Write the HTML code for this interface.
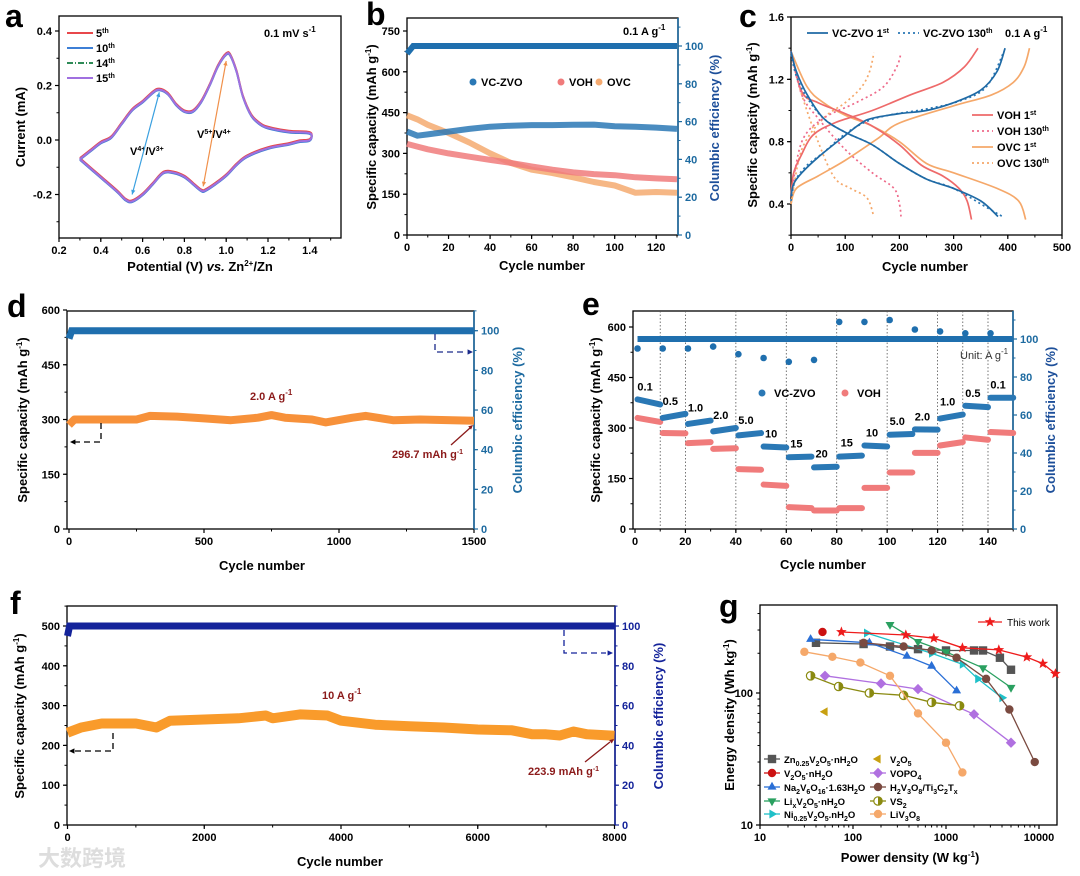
<!DOCTYPE html>
<html><head><meta charset="utf-8">
<style>
html,body{margin:0;padding:0;background:#fff;}
svg{display:block;font-family:"Liberation Sans","Noto Sans CJK SC",sans-serif;}
.t{font-size:11px;font-weight:bold;}
.ti{font-size:13px;font-weight:bold;}
.pl{font-size:32px;font-weight:bold;}
.lg{font-size:11px;font-weight:bold;}
</style></head>
<body>
<svg id="fig" width="1080" height="876" viewBox="0 0 1080 876" xmlns="http://www.w3.org/2000/svg">
<rect x="0" y="0" width="1080" height="876" fill="#fff"/>
<text class="pl" x="5" y="27">a</text>
<text class="pl" x="366" y="25">b</text>
<text class="pl" x="739" y="27">c</text>
<text class="pl" x="7" y="317">d</text>
<text class="pl" x="582" y="315">e</text>
<text class="pl" x="10" y="614">f</text>
<text class="pl" x="719" y="617">g</text>

<rect x="59" y="16" width="282" height="222" fill="none" stroke="#000" stroke-width="1.3"/>
<rect x="407" y="18" width="271" height="217" fill="none" stroke="#000" stroke-width="1.3"/>
<line x1="678" y1="18" x2="678" y2="235" stroke="#1d6aa0" stroke-width="1.6"/>
<rect x="791" y="17" width="271" height="218" fill="none" stroke="#000" stroke-width="1.3"/>
<rect x="67" y="311" width="407" height="218" fill="none" stroke="#000" stroke-width="1.3"/>
<line x1="474" y1="311" x2="474" y2="529" stroke="#1d6aa0" stroke-width="1.6"/>
<rect x="633" y="311" width="380" height="218" fill="none" stroke="#000" stroke-width="1.3"/>
<line x1="1013" y1="311" x2="1013" y2="529" stroke="#1d6aa0" stroke-width="1.6"/>
<rect x="67" y="606" width="548" height="219" fill="none" stroke="#000" stroke-width="1.3"/>
<line x1="615" y1="606" x2="615" y2="825" stroke="#14239a" stroke-width="1.6"/>
<rect x="760" y="605" width="297" height="220" fill="none" stroke="#000" stroke-width="1.3"/>

<text class="ti" transform="translate(25,127) rotate(-90)" text-anchor="middle">Current (mA)</text>
<text class="ti" x="200" y="271" text-anchor="middle">Potential (V) <tspan font-style="italic">vs.</tspan> Zn<tspan dy="-5" font-size="8">2+</tspan><tspan dy="5">/Zn</tspan></text>
<text class="ti" transform="translate(376,127) rotate(-90)" text-anchor="middle">Specific capacity (mAh g<tspan dy="-5" font-size="8">-1</tspan><tspan dy="5">)</tspan></text>
<text class="ti" transform="translate(719,128) rotate(-90)" text-anchor="middle" fill="#1d4f9a">Columbic efficiency (%)</text>
<text class="ti" x="542" y="270" text-anchor="middle">Cycle number</text>
<text class="ti" transform="translate(757,125) rotate(-90)" text-anchor="middle">Specific capacity (mAh g<tspan dy="-5" font-size="8">-1</tspan><tspan dy="5">)</tspan></text>
<text class="ti" x="925" y="271" text-anchor="middle">Cycle number</text>
<text class="ti" transform="translate(27,420) rotate(-90)" text-anchor="middle">Specific capacity (mAh g<tspan dy="-5" font-size="8">-1</tspan><tspan dy="5">)</tspan></text>
<text class="ti" transform="translate(522,420) rotate(-90)" text-anchor="middle" fill="#1d6aa0">Columbic efficiency (%)</text>
<text class="ti" x="262" y="570" text-anchor="middle">Cycle number</text>
<text class="ti" transform="translate(600,420) rotate(-90)" text-anchor="middle">Specific capacity (mAh g<tspan dy="-5" font-size="8">-1</tspan><tspan dy="5">)</tspan></text>
<text class="ti" transform="translate(1055,420) rotate(-90)" text-anchor="middle" fill="#1d4f9a">Columbic efficiency (%)</text>
<text class="ti" x="823" y="569" text-anchor="middle">Cycle number</text>
<text class="ti" transform="translate(24,716) rotate(-90)" text-anchor="middle">Specific capacity (mAh g<tspan dy="-5" font-size="8">-1</tspan><tspan dy="5">)</tspan></text>
<text class="ti" transform="translate(663,716) rotate(-90)" text-anchor="middle" fill="#14239a">Columbic efficiency (%)</text>
<text class="ti" x="340" y="866" text-anchor="middle">Cycle number</text>
<text class="ti" transform="translate(734,715) rotate(-90)" text-anchor="middle">Energy density (Wh kg<tspan dy="-5" font-size="8">-1</tspan><tspan dy="5">)</tspan></text>
<text class="ti" x="910" y="862" text-anchor="middle">Power density (W kg<tspan dy="-5" font-size="8">-1</tspan><tspan dy="5">)</tspan></text>

<text class="lg" x="264" y="37" font-size="12">0.1 mV s<tspan dy="-5" font-size="8">-1</tspan></text>
<text class="lg" x="130" y="155" font-size="10">V<tspan dy="-4" font-size="7">4+</tspan><tspan dy="4">/V</tspan><tspan dy="-4" font-size="7">3+</tspan></text>
<text class="lg" x="197" y="138" font-size="10">V<tspan dy="-4" font-size="7">5+</tspan><tspan dy="4">/V</tspan><tspan dy="-4" font-size="7">4+</tspan></text>
<text class="lg" x="623" y="35" font-size="12">0.1 A g<tspan dy="-5" font-size="8">-1</tspan></text>
<text class="lg" x="1005" y="37" font-size="12">0.1 A g<tspan dy="-5" font-size="8">-1</tspan></text>
<text class="lg" x="250" y="400" font-size="12" fill="#8b1a1a">2.0 A g<tspan dy="-5" font-size="8">-1</tspan></text>
<text class="lg" x="392" y="458" font-size="9" fill="#8b1a1a">296.7 mAh g<tspan dy="-4" font-size="7">-1</tspan></text>
<text x="960" y="359" font-size="11" fill="#333">Unit: A g<tspan dy="-5" font-size="8">-1</tspan></text>
<text class="lg" x="322" y="699" font-size="12" fill="#8b1a1a">10 A g<tspan dy="-5" font-size="8">-1</tspan></text>
<text class="lg" x="528" y="775" font-size="9" fill="#8b1a1a">223.9 mAh g<tspan dy="-4" font-size="7">-1</tspan></text>
<text x="38" y="866" font-size="22" fill="#ddd" font-weight="bold">大数跨境</text>
</svg>
<script>
const cvV=[0.3,0.35,0.4,0.45,0.5,0.55,0.6,0.65,0.68,0.72,0.76,0.8,0.84,0.88,0.92,0.96,1.0,1.02,1.05,1.08,1.12,1.16,1.2,1.3,1.4,1.4,1.35,1.3,1.2,1.1,1.05,1.0,0.95,0.9,0.88,0.84,0.8,0.75,0.7,0.65,0.6,0.55,0.52,0.48,0.42,0.36,0.3];
const cvI=[-0.07,-0.04,-0.01,0.01,0.06,0.11,0.14,0.175,0.185,0.17,0.13,0.105,0.105,0.14,0.2,0.27,0.315,0.31,0.25,0.16,0.09,0.06,0.045,0.03,0.025,0.0,-0.005,-0.015,-0.03,-0.06,-0.09,-0.13,-0.16,-0.185,-0.185,-0.16,-0.135,-0.12,-0.12,-0.16,-0.2,-0.225,-0.22,-0.19,-0.15,-0.11,-0.07];
const cvCycles=["5th","10th","14th","15th"];
const aXTicks=[0.2,0.4,0.6,0.8,1.0,1.2,1.4];
const aYTicks=[-0.2,0.0,0.2,0.4];
const bCycles=[0,5,10,20,30,40,50,60,70,80,90,100,110,120,130];
const bZVO=[380,365,370,380,390,398,402,404,404,405,406,400,398,395,390];
const bVOH=[335,325,315,300,288,276,265,252,240,230,224,220,212,208,205];
const bOVC=[440,425,405,375,340,300,265,240,228,212,195,182,155,158,155];
const bCECycles=[0,3,130];
const bCE=[96,100,100];
const bXTicks=[0,20,40,60,80,100,120];
const bYTicks=[0,150,300,450,600,750];
const bY2Ticks=[0,20,40,60,80,100];
const cZvoChgQ=[0,5,20,50,100,130,150,200,250,300,350,380,395];
const cZvoChgV=[0.45,0.53,0.6,0.7,0.84,0.92,0.95,0.98,1.0,1.05,1.13,1.25,1.4];
const cZvoDisQ=[0,10,30,60,100,150,200,250,300,350,382];
const cZvoDisV=[1.38,1.25,1.1,0.95,0.86,0.78,0.66,0.56,0.5,0.42,0.32];
const cZvo130ChgQ=[0,8,30,60,100,140,180,250,310,360,393];
const cZvo130ChgV=[0.42,0.55,0.65,0.73,0.85,0.93,0.97,1.01,1.06,1.15,1.38];
const cZvo130DisQ=[0,10,30,60,100,150,200,250,300,360,390];
const cZvo130DisV=[1.36,1.22,1.08,0.95,0.86,0.78,0.66,0.56,0.5,0.38,0.32];
const cVohChgQ=[0,5,20,40,80,150,220,280,320,345];
const cVohChgV=[0.45,0.6,0.72,0.84,0.92,1.0,1.1,1.18,1.28,1.4];
const cVohDisQ=[0,20,50,100,150,200,240,280,310,325,333];
const cVohDisV=[1.38,1.12,1.05,0.98,0.9,0.78,0.65,0.58,0.5,0.42,0.3];
const cVoh130ChgQ=[0,20,60,120,170,195,203];
const cVoh130ChgV=[0.45,0.8,0.95,1.05,1.15,1.28,1.37];
const cVoh130DisQ=[0,20,50,100,150,190,200,203];
const cVoh130DisV=[1.38,1.1,0.95,0.75,0.6,0.5,0.4,0.32];
const cOvcChgQ=[0,10,50,100,160,200,300,370,410,430,440];
const cOvcChgV=[0.4,0.5,0.58,0.68,0.82,0.92,1.03,1.1,1.18,1.28,1.4];
const cOvcDisQ=[0,30,60,100,150,200,250,300,380,420,433];
const cOvcDisV=[1.38,1.15,1.05,0.97,0.9,0.8,0.66,0.6,0.5,0.42,0.3];
const cOvc130ChgQ=[0,20,60,100,130,145,153];
const cOvc130ChgV=[0.4,0.75,0.95,1.05,1.15,1.25,1.37];
const cOvc130DisQ=[0,20,50,80,110,140,152];
const cOvc130DisV=[1.36,1.1,0.8,0.57,0.5,0.44,0.33];
const cXTicks=[0,100,200,300,400,500];
const cYTicks=[0.4,0.8,1.2,1.6];
const dCycles=[0,20,250,300,400,500,600,700,750,800,900,950,1050,1100,1200,1300,1500];
const dCap=[285,300,300,310,308,303,298,305,312,305,300,292,305,310,298,300,296.7];
const dCECycles=[0,10,1500];
const dCE=[96,100,100];
const dXTicks=[0,500,1000,1500];
const dYTicks=[0,150,300,450,600];
const dY2Ticks=[0,20,40,60,80,100];
const eRates=["0.1","0.5","1.0","2.0","5.0","10","15","20","15","10","5.0","2.0","1.0","0.5","0.1"];
const eZvoStart=[385,330,312,290,278,245,213,183,215,248,280,296,328,366,390];
const eZvoEnd=[370,342,322,300,285,242,215,185,218,245,282,295,340,362,390];
const eVohStart=[330,285,255,238,178,132,65,55,62,122,168,226,248,272,288];
const eVohEnd=[318,284,258,240,176,128,62,55,62,122,168,226,258,265,285];
const eCEOutCycles=[1,11,21,31,41,51,61,71,81,91,101,111,121,131,141];
const eCEOut=[95,95,95,96,92,90,88,89,109,109,110,105,104,103,103];
const eDivs=[10,20,40,60,80,100,120,130,140];
const eXTicks=[0,20,40,60,80,100,120,140];
const eYTicks=[0,150,300,450,600];
const eY2Ticks=[0,20,40,60,80,100];
const fCycles=[0,200,500,1000,1300,1500,2000,2500,2900,3000,3400,3800,4000,4500,5000,5500,6000,6500,6800,7000,7200,7400,7600,8000];
const fCap=[232,245,255,255,245,262,265,268,275,268,278,275,262,252,248,245,240,238,228,228,225,235,228,224];
const fCECycles=[0,30,8000];
const fCE=[95,100,100];
const fXTicks=[0,2000,4000,6000,8000];
const fYTicks=[0,100,200,300,400,500];
const fY2Ticks=[0,20,40,60,80,100];
const gNames=["This work","Zn0.25V2O5·nH2O","V2O5·nH2O","Na2V6O16·1.63H2O","LixV2O5·nH2O","Ni0.25V2O5.nH2O","V2O5","VOPO4","H2V3O8/Ti3C2Tx","VS2","LiV3O8"];
const gThisP=[75,370,740,1500,3700,7400,11000,15000];
const gThisE=[290,275,260,220,212,187,167,140];
const gZnP=[40,130,250,500,1000,2000,2500,3800,5000];
const gZnE=[240,235,225,215,210,210,210,185,150];
const gVnP=[47];
const gVnE=[290];
const gNaP=[35,150,380,700,1300];
const gNaE=[255,240,190,160,104];
const gLiP=[250,500,1000,2500,5000];
const gLiE=[330,245,205,155,110];
const gNiP=[140,700,1500,2200,4000];
const gNiE=[285,200,165,128,92];
const gV2P=[50];
const gV2E=[72];
const gVoP=[50,200,500,2000,5000];
const gVoE=[135,118,107,69,42];
const gHP=[130,350,700,1300,2700,4800,9000];
const gHE=[240,225,210,185,128,75,30];
const gVsP=[35,70,150,350,700,1400];
const gVsE=[135,112,100,96,85,80];
const gLvP=[30,60,120,250,500,1000,1500];
const gLvE=[205,188,170,135,70,42,25];

const NS='http://www.w3.org/2000/svg';
const svg=document.getElementById('fig');
function mk(tag,attrs,parent){const e=document.createElementNS(NS,tag);for(const k in attrs)e.setAttribute(k,attrs[k]);(parent||svg).appendChild(e);return e;}
function lin(d0,d1,r0,r1){return v=>r0+(v-d0)*(r1-r0)/(d1-d0);}
function logs(d0,d1,r0,r1){return v=>r0+(Math.log10(v)-Math.log10(d0))*(r1-r0)/(Math.log10(d1)-Math.log10(d0));}

function xAxis(sx,yb,vals,labels,minorStep,lo,hi,color){
  const g=mk('g',{});
  
  
  vals.forEach((v,i)=>{
    const l=mk('line',{x1:sx(v),x2:sx(v),y1:yb,y2:yb+4,stroke:color||'#000','stroke-width':1.2},g);
    
    
    const t=mk('text',{x:sx(v),y:yb+16,'text-anchor':'middle','class':'t',fill:color||'#000'},g);
    
    
    t.textContent=labels[i];
  });
  if(minorStep){for(let v=lo;v<=hi+1e-9;v+=minorStep){
    const l=mk('line',{x1:sx(v),x2:sx(v),y1:yb,y2:yb+2.5,stroke:color||'#000','stroke-width':1},g);
    
    
  }}
}
function yAxis(sy,xa,vals,labels,minorStep,lo,hi,side,color){
  const g=mk('g',{});
  
  
  const c=color||'#000';
  vals.forEach((v,i)=>{
    const l=mk('line',{x1:xa,x2:xa+side*4,y1:sy(v),y2:sy(v),stroke:c,'stroke-width':1.2},g);
    
    
    const t=mk('text',{x:xa+side*7,y:sy(v)+4,'text-anchor':side>0?'start':'end','class':'t',fill:c},g);
    
    
    t.textContent=labels[i];
  });
  if(minorStep){for(let v=lo;v<=hi+1e-9;v+=minorStep){
    const l=mk('line',{x1:xa,x2:xa+side*2.5,y1:sy(v),y2:sy(v),stroke:c,'stroke-width':1},g);
    
    
  }}
}
function pts(xs,ys,sx,sy){return xs.map((x,i)=>sx(x).toFixed(1)+','+sy(ys[i]).toFixed(1)).join(' ');}
function smooth(xs,ys,sx,sy){
  const P=xs.map((x,i)=>[sx(x),sy(ys[i])]);
  let d='M'+P[0][0].toFixed(1)+','+P[0][1].toFixed(1);
  for(let i=0;i<P.length-1;i++){
    const p0=P[Math.max(0,i-1)],p1=P[i],p2=P[i+1],p3=P[Math.min(P.length-1,i+2)];
    const c1=[p1[0]+(p2[0]-p0[0])/6,p1[1]+(p2[1]-p0[1])/6];
    const c2=[p2[0]-(p3[0]-p1[0])/6,p2[1]-(p3[1]-p1[1])/6];
    d+=' C'+c1[0].toFixed(1)+','+c1[1].toFixed(1)+' '+c2[0].toFixed(1)+','+c2[1].toFixed(1)+' '+p2[0].toFixed(1)+','+p2[1].toFixed(1);
  }
  return d;
}
function arrowHead(x,y,ang,color,size){
  const s=size||5;
  const a1=ang+2.7,a2=ang-2.7;
  return mk('polygon',{points:`${x},${y} ${x+s*Math.cos(a1)},${y+s*Math.sin(a1)} ${x+s*Math.cos(a2)},${y+s*Math.sin(a2)}`,fill:color});
}

// Panel a
{
const sx=lin(0.2,1.4,59,309.8), sy=lin(0,0.4,140,31);
xAxis(sx,238,aXTicks,aXTicks.map(v=>v.toFixed(1)),0.1,0.2,1.5);
yAxis(sy,59,aYTicks,aYTicks.map(v=>v.toFixed(1)),0.1,-0.3,0.4,-1);
const cols=['#e8474b','#3d7fd6','#2e8b57','#a070e0'];
const dashes=['none','none','6,2,1,2','none'];
const offs=[0.004,-0.003,0.0,0.0];
cols.forEach((c,k)=>{
  const p=mk('path',{d:smooth(cvV,cvI.map(v=>v+offs[k]),sx,sy),fill:'none',stroke:c,'stroke-width':k==3?2:1.8,'stroke-dasharray':dashes[k]});
  
  
  const l=mk('line',{x1:67,x2:93,y1:33+k*15,y2:33+k*15,stroke:c,'stroke-width':2,'stroke-dasharray':dashes[k]});
  
  
  const t=mk('text',{x:96,y:37+k*15,'class':'lg'});
  
  
  t.textContent=cvCycles[k].replace(/th$/,'');
  const s=mk('tspan',{dy:-4,'font-size':7},t);
  s.textContent='th';
});
const ar1=mk('line',{x1:sx(0.55),y1:sy(-0.2),x2:sx(0.68),y2:sy(0.175),stroke:'#3aa0e0','stroke-width':1.2});


const ah1=arrowHead(sx(0.55),sy(-0.2),Math.atan2(sy(-0.2)-sy(0.175),sx(0.55)-sx(0.68)),'#3aa0e0');


const ah2=arrowHead(sx(0.68),sy(0.175),Math.atan2(sy(0.175)-sy(-0.2),sx(0.68)-sx(0.55)),'#3aa0e0');


const ar2=mk('line',{x1:sx(0.89),y1:sy(-0.17),x2:sx(1.0),y2:sy(0.29),stroke:'#f0904a','stroke-width':1.2});


const ah3=arrowHead(sx(0.89),sy(-0.17),Math.atan2(sy(-0.17)-sy(0.29),sx(0.89)-sx(1.0)),'#f0904a');


const ah4=arrowHead(sx(1.0),sy(0.29),Math.atan2(sy(0.29)-sy(-0.17),sx(1.0)-sx(0.89)),'#f0904a');


}

// Panel b
{
const sx=lin(0,130,407,677), sy=lin(0,750,235,31), sy2=lin(0,100,235,46);
xAxis(sx,235,bXTicks,bXTicks.map(String),10,0,130);
yAxis(sy,407,bYTicks,bYTicks.map(String),75,0,750,-1);
yAxis(sy2,678,bY2Ticks,bY2Ticks.map(String),10,0,110,1,'#1d6aa0');
const ser=[[bOVC,'#f5aa70','ovc'],[bVOH,'#f07b7b','voh'],[bZVO,'#2a78b5','vc-zvo']];
ser.forEach(s=>{
  const p=mk('polyline',{points:pts(bCycles,s[0],sx,sy),fill:'none',stroke:s[1],'stroke-width':6,'stroke-linejoin':'round','stroke-opacity':0.85});
  
  
});
const ce=mk('polyline',{points:pts(bCECycles,bCE,sx,sy2),fill:'none',stroke:'#1f6fae','stroke-width':6});


const leg=[[473,'#2a78b5','VC-ZVO'],[561,'#f07b7b','VOH'],[599,'#f5aa70','OVC']];
leg.forEach(l=>{
  const c=mk('circle',{cx:l[0],cy:82,r:3.5,fill:l[1]});
  
  
  const t=mk('text',{x:l[0]+8,y:86,'class':'lg'});
  
  
  t.textContent=l[2];
});
}

// Panel c
{
const sx=lin(0,500,791,1062), sy=lin(0.4,1.6,204,17);
xAxis(sx,235,cXTicks,cXTicks.map(String),50,0,500);
yAxis(sy,791,cYTicks,cYTicks.map(v=>v.toFixed(1)),0.2,0.2,1.6,-1);
const curves=[
 [cOvcChgQ,cOvcChgV,'#f5a86a','none','ovc-1st-charge'],[cOvcDisQ,cOvcDisV,'#f5a86a','none','ovc-1st-discharge'],
 [cOvc130ChgQ,cOvc130ChgV,'#f5a86a','2,3','ovc-130th-charge'],[cOvc130DisQ,cOvc130DisV,'#f5a86a','2,3','ovc-130th-discharge'],
 [cVohChgQ,cVohChgV,'#ee6a6a','none','voh-1st-charge'],[cVohDisQ,cVohDisV,'#ee6a6a','none','voh-1st-discharge'],
 [cVoh130ChgQ,cVoh130ChgV,'#ee6a8a','2,3','voh-130th-charge'],[cVoh130DisQ,cVoh130DisV,'#ee6a8a','2,3','voh-130th-discharge'],
 [cZvo130ChgQ,cZvo130ChgV,'#2a78b5','2,3','vc-zvo-130th-charge'],[cZvo130DisQ,cZvo130DisV,'#2a78b5','2,3','vc-zvo-130th-discharge'],
 [cZvoChgQ,cZvoChgV,'#1f6aa5','none','vc-zvo-1st-charge'],[cZvoDisQ,cZvoDisV,'#1f6aa5','none','vc-zvo-1st-discharge']];
curves.forEach(c=>{
  const p=mk('path',{d:smooth(c[0],c[1],sx,sy),fill:'none',stroke:c[2],'stroke-width':1.7,'stroke-dasharray':c[3]});
  
  
});
const leg=[[807,33,'#1f6aa5','none','VC-ZVO 1'],[898,33,'#2a78b5','2,3','VC-ZVO 130'],
 [972,115,'#ee6a6a','none','VOH 1'],[972,131,'#ee6a8a','2,3','VOH 130'],[972,147,'#f5a86a','none','OVC 1'],[972,163,'#f5a86a','2,3','OVC 130']];
leg.forEach(l=>{
  const ln=mk('line',{x1:l[0],x2:l[0]+21,y1:l[1],y2:l[1],stroke:l[2],'stroke-width':1.8,'stroke-dasharray':l[3]});
  
  
  const t=mk('text',{x:l[0]+25,y:l[1]+4,'class':'lg'});
  
  
  t.textContent=l[4];
  const s=mk('tspan',{dy:-4,'font-size':7},t);
  s.textContent=l[4].endsWith(' 1')?'st':'th';
});
}

// Panel d
{
const sx=lin(0,1500,69,474), sy=lin(0,600,529,310), sy2=lin(0,100,529,330.7);
xAxis(sx,529,dXTicks,dXTicks.map(String),250,0,1500);
yAxis(sy,67,dYTicks,dYTicks.map(String),75,0,600,-1);
yAxis(sy2,474,dY2Ticks,dY2Ticks.map(String),10,0,110,1,'#1d6aa0');
const p=mk('polyline',{points:pts(dCycles,dCap,sx,sy),fill:'none',stroke:'#f7913a','stroke-width':8,'stroke-linejoin':'round'});


const c=mk('polyline',{points:pts(dCECycles,dCE,sx,sy2),fill:'none',stroke:'#1f6fae','stroke-width':7});


const d1=mk('polyline',{points:'101,423 101,442 74,442',fill:'none',stroke:'#000','stroke-width':1.3,'stroke-dasharray':'6,4'});


const h1=arrowHead(70,442,Math.PI,'#000',6);


const d2=mk('polyline',{points:'435,334 435,352 467,352',fill:'none',stroke:'#1a2a8a','stroke-width':1.3,'stroke-dasharray':'6,4'});


const h2=arrowHead(473,352,0,'#1a2a8a',6);


const a=mk('line',{x1:451,y1:445,x2:470,y2:428,stroke:'#8b1a1a','stroke-width':1.3});


const h3=arrowHead(473,425,Math.atan2(-17,19),'#8b1a1a',5);


}

// Panel e
{
const sx=lin(0,140,635,988), sy=lin(0,600,529,327), sy2=lin(0,100,529,339);
xAxis(sx,529,eXTicks,eXTicks.map(String),10,0,150);
yAxis(sy,633,eYTicks,eYTicks.map(String),75,0,600,-1);
yAxis(sy2,1013,eY2Ticks,eY2Ticks.map(String),10,0,110,1,'#1d6aa0');
eDivs.forEach(v=>{
  const l=mk('line',{x1:sx(v),x2:sx(v),y1:311,y2:529,stroke:'#555','stroke-width':0.8,'stroke-dasharray':'1.5,2'});
  
  
});
const ce=mk('line',{x1:sx(1),x2:sx(150),y1:sy2(100),y2:sy2(100),stroke:'#1f6fae','stroke-width':6});


eCEOutCycles.forEach((c,i)=>{
  const o=mk('circle',{cx:sx(c),cy:sy2(eCEOut[i]),r:3.3,fill:'#1f6fae'});
  
  
});
eRates.forEach((r,i)=>{
  const x0=i*10+1, x1=i*10+10;
  const v=mk('line',{x1:sx(x0),x2:sx(x1),y1:sy(eVohStart[i]),y2:sy(eVohEnd[i]),stroke:'#f07b7b','stroke-width':6,'stroke-linecap':'round'});
  
  
  const z=mk('line',{x1:sx(x0),x2:sx(x1),y1:sy(eZvoStart[i]),y2:sy(eZvoEnd[i]),stroke:'#2a78b5','stroke-width':6,'stroke-linecap':'round'});
  
  
  const t=mk('text',{x:sx(i*10+4),y:sy(Math.max(eZvoStart[i],eZvoEnd[i]))-9,'text-anchor':'middle','class':'lg','font-size':12});
  
  
  t.textContent=r;
});
const leg=[[762,'#2a78b5','VC-ZVO'],[845,'#f07b7b','VOH']];
leg.forEach(l=>{
  const c=mk('circle',{cx:l[0],cy:393,r:3.5,fill:l[1]});
  
  
  const t=mk('text',{x:l[0]+12,y:397,'class':'lg','font-size':12});
  
  
  t.textContent=l[2];
});
}

// Panel f
{
const sx=lin(0,8000,67.5,614.5), sy=lin(0,500,825,626), sy2=lin(0,100,825,626);
xAxis(sx,825,fXTicks,fXTicks.map(String),1000,0,8000);
yAxis(sy,67,fYTicks,fYTicks.map(String),50,0,550,-1);
yAxis(sy2,615,fY2Ticks,fY2Ticks.map(String),10,0,110,1,'#14239a');
const p=mk('polyline',{points:pts(fCycles,fCap,sx,sy),fill:'none',stroke:'#f99b2b','stroke-width':10,'stroke-linejoin':'round'});


const c=mk('polyline',{points:pts(fCECycles,fCE,sx,sy2),fill:'none',stroke:'#14239a','stroke-width':7});


const d1=mk('polyline',{points:'113,733 113,751 74,751',fill:'none',stroke:'#000','stroke-width':1.3,'stroke-dasharray':'6,4'});


const h1=arrowHead(69,751,Math.PI,'#000',6);


const d2=mk('polyline',{points:'564,630 564,653 606,653',fill:'none',stroke:'#14239a','stroke-width':1.3,'stroke-dasharray':'6,4'});


const h2=arrowHead(613,653,0,'#14239a',6);


const a=mk('line',{x1:585,y1:762,x2:610,y2:742,stroke:'#8b1a1a','stroke-width':1.3});


const h3=arrowHead(614,739,Math.atan2(-20,25),'#8b1a1a',5);


}

// Panel g
{
const sx=logs(10,10000,760,1039), sy=logs(10,100,825,693);
const xt=[10,100,1000,10000];
xAxis(sx,825,xt,xt.map(String),0,0,0);
yAxis(sy,760,[10,100],['10','100'],0,0,0,-1);
[1,10,100,1000].forEach(d=>{for(let m=2;m<10;m++){const v=d*m*10;if(sx(v)<1057){
  const l=mk('line',{x1:sx(v),x2:sx(v),y1:825,y2:827.5,stroke:'#000','stroke-width':1});
  
  }}});
[10,100].forEach(d=>{for(let m=2;m<10;m++){const v=d*m;if(sy(v)>605){
  const l=mk('line',{x1:760,x2:757.5,y1:sy(v),y2:sy(v),stroke:'#000','stroke-width':1});
  
  }}});
function marker(shape,x,y,color,parent){
  let e;const s=4.2;
  if(shape==='sq')e=mk('rect',{x:x-s,y:y-s,width:2*s,height:2*s,fill:color},parent);
  else if(shape==='ci')e=mk('circle',{cx:x,cy:y,r:s,fill:color},parent);
  else if(shape==='half'){e=mk('g',{},parent);mk('circle',{cx:x,cy:y,r:s,fill:'#fff',stroke:color,'stroke-width':1.2},e);mk('path',{d:`M${x},${y-s} A${s},${s} 0 0 1 ${x},${y+s} Z`,fill:color},e);}
  else if(shape==='star'){const p=[];for(let k=0;k<10;k++){const r=k%2?2.4:5.6,a=-Math.PI/2+k*Math.PI/5;p.push((x+r*Math.cos(a)).toFixed(1)+','+(y+r*Math.sin(a)).toFixed(1));}e=mk('polygon',{points:p.join(' '),fill:color},parent);}
  else{const rot={up:-90,down:90,right:0,left:180,dia:0}[shape];
    let p;
    if(shape==='dia')p=[[0,-s-1],[s+1,0],[0,s+1],[-s-1,0]];
    else{p=[0,1,2].map(k=>{const a=(rot+k*120)*Math.PI/180;return [(s+1)*Math.cos(a),(s+1)*Math.sin(a)];});}
    e=mk('polygon',{points:p.map(q=>(x+q[0]).toFixed(1)+','+(y+q[1]).toFixed(1)).join(' '),fill:color},parent);}
  return e;
}
const series=[
 [gZnP,gZnE,'#555555','sq'],[gVnP,gVnE,'#cc1111','ci'],[gNaP,gNaE,'#2a6fd6','up'],[gLiP,gLiE,'#2aa060','down'],
 [gNiP,gNiE,'#1fc0c8','right'],[gV2P,gV2E,'#c8a010','left'],[gVoP,gVoE,'#b070e0','dia'],[gHP,gHE,'#7a4a40','ci'],
 [gVsP,gVsE,'#8a8a10','half'],[gLvP,gLvE,'#f5a86a','ci'],[gThisP,gThisE,'#ee1c1c','star']];
const nameIdx=[1,2,3,4,5,6,7,8,9,10,0];
series.forEach((s,k)=>{
  const g=mk('g',{});
  
  
  if(s[0].length>1){const l=mk('polyline',{points:pts(s[0],s[1],sx,sy),fill:'none',stroke:s[2],'stroke-width':1.3},g);
    
    }
  s[0].forEach((p,i)=>{const m=marker(s[3],sx(p),sy(s[1][i]),s[2],g);
    
    });
});
const legRows=[759,773,787,801,814];
// each label: alternating normal / subscript pieces (even index normal, odd index subscript)
const legParts=[
 ['Zn','0.25','V','2','O','5','·nH','2','O'],
 ['V','2','O','5','·nH','2','O'],
 ['Na','2','V','6','O','16','·1.63H','2','O'],
 ['Li','x','V','2','O','5','·nH','2','O'],
 ['Ni','0.25','V','2','O','5','.nH','2','O'],
 ['V','2','O','5'],
 ['VOPO','4'],
 ['H','2','V','3','O','8','/Ti','3','C','2','T','x'],
 ['VS','2'],
 ['LiV','3','O','8']];
for(let k=0;k<10;k++){
  const col=k<5?0:1,row=k%5;
  const mx=col?878:772,y=legRows[row];
  const s=series[k];
  if(k!==5){const l=mk('line',{x1:mx-8,x2:mx+8,y1:y,y2:y,stroke:s[2],'stroke-width':1.3});
  
  }
  const m=marker(s[3],mx,y,s[2]);
  
  
  const t=mk('text',{x:mx+12,y:y+4,'font-size':9.5,'font-weight':'bold'});
  
  
  legParts[k].forEach((p,i)=>{
    const sub=i%2===1;
    const ts=mk('tspan',sub?{dy:3,'font-size':7}:{dy:i>0?-3:0},t);
    ts.textContent=p;
  });
}
const tl=mk('line',{x1:978,x2:1002,y1:622,y2:622,stroke:'#ee1c1c','stroke-width':1.3});


const tm=marker('star',990,622,'#ee1c1c');


const tt=mk('text',{x:1007,y:626,'font-size':10});


tt.textContent=gNames[0];
}
</script>
</body></html>
